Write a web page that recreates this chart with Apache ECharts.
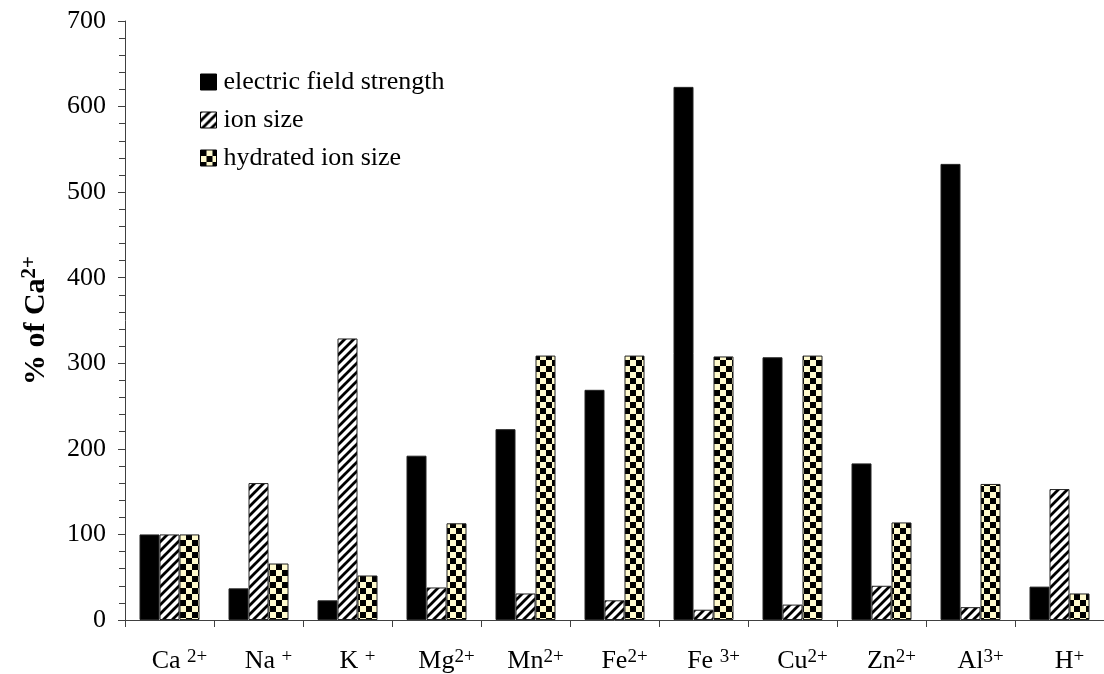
<!DOCTYPE html>
<html>
<head>
<meta charset="utf-8">
<script src="https://cdn.jsdelivr.net/npm/echarts@6/dist/echarts.min.js"></script>
<style>
html,body{margin:0;padding:0;background:#fff;}
#chart{width:1104px;height:674px;}
</style>
</head>
<body>
<div id="chart"></div>
<script>
// ---- data ----
var categories = ['Ca2+','Na+','K+','Mg2+','Mn2+','Fe2+','Fe3+','Cu2+','Zn2+','Al3+','H+'];
var ionNames   = ['Ca ','Na ','K ','Mg','Mn','Fe','Fe ','Cu','Zn','Al','H'];
var ionCharges = ['2+','+','+','2+','2+','2+','3+','2+','2+','3+','+'];
var seriesNames = ['electric field strength','ion size','hydrated ion size'];
var electricField = [100, 37, 23, 192, 223, 269, 623, 307, 183, 533, 39];
var ionSize       = [100, 160, 329, 38, 31, 23, 12, 18, 40, 15, 153];
var hydratedSize  = [100, 66, 52, 113, 309, 309, 308, 309, 114, 159, 31];
var yTicks = [0, 100, 200, 300, 400, 500, 600, 700];

// ---- patterns ----
function hatchPattern(){
  var c = document.createElement('canvas');
  c.width = 9; c.height = 9;
  var g = c.getContext('2d');
  g.fillStyle = '#fff'; g.fillRect(0,0,9,9);
  g.strokeStyle = '#000'; g.lineWidth = 2.8;
  g.beginPath();
  g.moveTo(-1,10); g.lineTo(10,-1);
  g.moveTo(-1,1); g.lineTo(1,-1);
  g.moveTo(8,10); g.lineTo(10,8);
  g.stroke();
  return c;
}
function checkerPattern(){
  var c = document.createElement('canvas');
  c.width = 12; c.height = 12;
  var g = c.getContext('2d');
  g.fillStyle = '#FFFACD'; g.fillRect(0,0,12,12);
  g.fillStyle = '#000';
  g.fillRect(0,0,6,6); g.fillRect(6,6,6,6);
  return c;
}

var FONT = '"Liberation Serif","Times New Roman",serif';
var chart = echarts.init(document.getElementById('chart'), null, {renderer:'canvas'});

var fills = ['#000', {image: hatchPattern(), repeat:'repeat'}, {image: checkerPattern(), repeat:'repeat'}];
var datas = [electricField, ionSize, hydratedSize];

var series = seriesNames.map(function(n, i){
  return {
    name: n,
    type: 'bar',
    data: datas[i],
    barWidth: 20,
    barGap: '0%',
    itemStyle: {color: fills[i], borderColor: '#222', borderWidth: 1},
    emphasis: {disabled: true},
    animation: false
  };
});

chart.setOption({
  animation: false,
  grid: {left: 125, top: 21, height: 599, width: 990, containLabel: false},
  legend: {
    orient: 'vertical',
    left: 195,
    top: 64,
    itemWidth: 16,
    itemHeight: 16,
    itemGap: 12,
    icon: 'rect',
    selectedMode: false,
    itemStyle: {borderColor: '#000', borderWidth: 1},
    textStyle: {fontFamily: FONT, fontSize: 26, color: '#000', lineHeight: 26, padding: [0,0,0,2]},
    data: seriesNames
  },
  xAxis: {
    type: 'category',
    data: categories,
    axisLine: {lineStyle: {color: '#404040', width: 1}},
    axisTick: {show: true, length: 7, lineStyle: {color: '#404040'}},
    axisLabel: {
      interval: 0,
      margin: 28,
      padding: [0,0,0,20],
      formatter: function(v, idx){
        return '{b|' + ionNames[idx] + '}{s|' + ionCharges[idx] + '}';
      },
      rich: {
        b: {fontFamily: FONT, fontSize: 26, color: '#000'},
        s: {fontFamily: FONT, fontSize: 19, color: '#000', padding: [0,0,7,0]}
      }
    }
  },
  yAxis: {
    type: 'value',
    min: yTicks[0],
    max: yTicks[yTicks.length-1],
    interval: 100,
    name: '% of Ca{s|2+}',
    nameLocation: 'middle',
    nameGap: 72,
    nameTextStyle: {
      fontFamily: FONT, fontSize: 30, fontWeight: 'bold', color: '#000',
      rich: {s: {fontFamily: FONT, fontSize: 21, fontWeight: 'bold', color: '#000', padding: [0,0,13,0]}}
    },
    axisLine: {show: true, lineStyle: {color: '#404040', width: 1}},
    axisTick: {show: true, length: 7, lineStyle: {color: '#404040'}},
    minorTick: {show: true, splitNumber: 5, length: 6, lineStyle: {color: '#404040'}},
    splitLine: {show: false},
    axisLabel: {fontFamily: FONT, fontSize: 26, color: '#000', margin: 19}
  },
  series: series
});
</script>
</body>
</html>
